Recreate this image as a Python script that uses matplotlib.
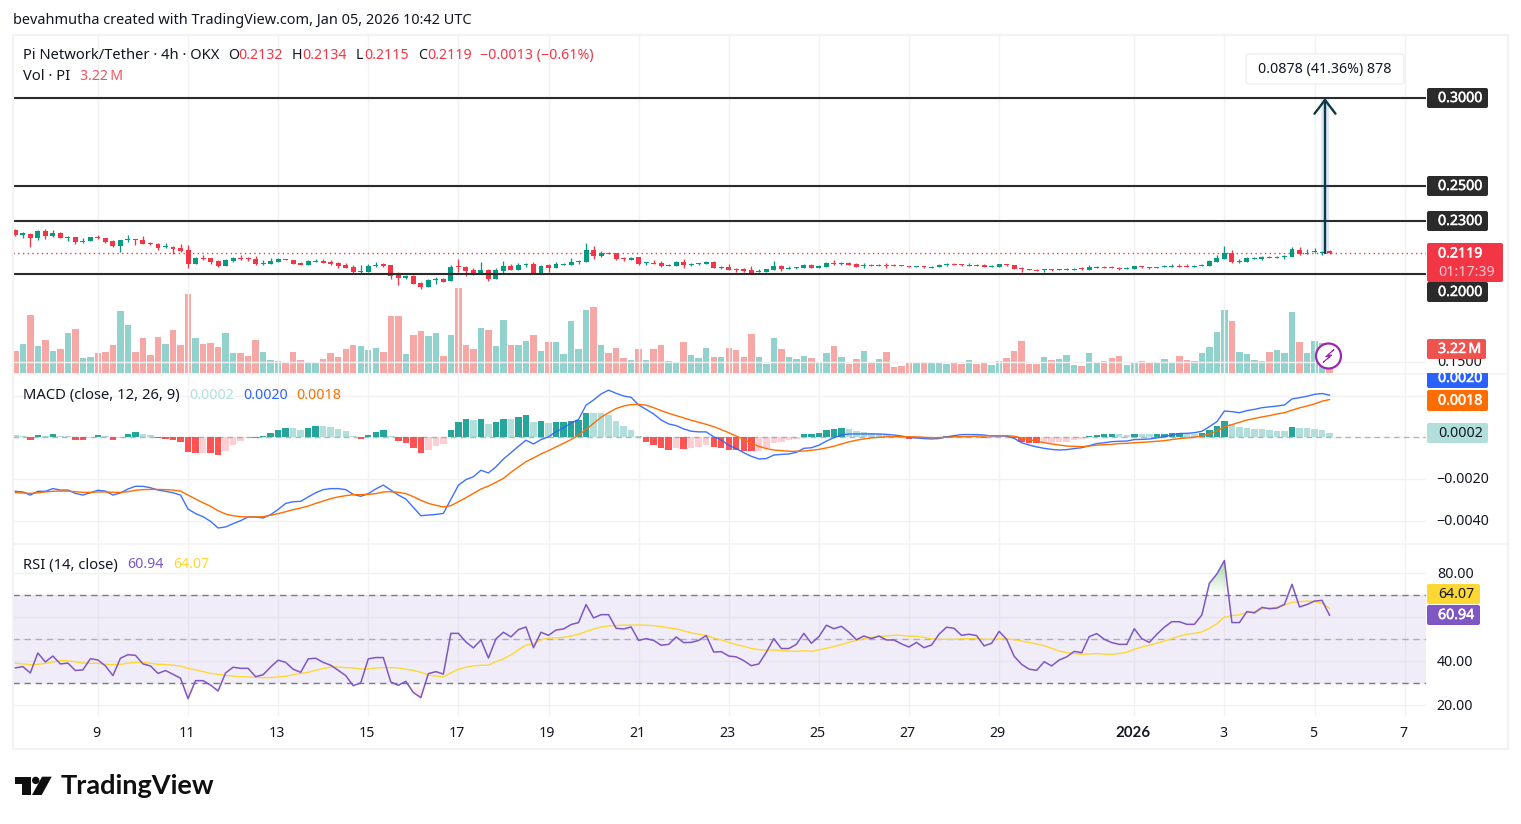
import numpy as np
import matplotlib
matplotlib.use("Agg")
import matplotlib.pyplot as plt
import matplotlib.patheffects as pe
from matplotlib.patches import Circle, FancyBboxPatch, Polygon, Rectangle
from matplotlib.transforms import ScaledTranslation

plt.rcParams['font.family'] = ['Noto Sans', 'DejaVu Sans']

W, H = 1521, 824

# OHLC, one bar every 4 hours
opens = [.2250,.2223,.2227,.2205,.2242,.2216,.2233,.2205,.2210,.2182,
         .2188,.2212,.2205,.2188,.2159,.2193,.2199,.2193,.2176,.2170,
         .2153,.2153,.2148,.2136,.2057,.2089,.2091,.2074,.2045,.2074,
         .2091,.2089,.2085,.2057,.2057,.2068,.2085,.2080,.2063,.2051,
         .2068,.2074,.2070,.2063,.2051,.2040,.2011,.2011,.2045,.2055,
         .2051,.2000,.1977,.1989,.1949,.1926,.1966,.1972,.1960,.2045,
         .2040,.2023,.2000,.2023,.1972,.2017,.2045,.2023,.2049,.2057,
         .2000,.2051,.2034,.2053,.2051,.2068,.2068,.2136,.2102,.2119,
         .2119,.2091,.2080,.2097,.2063,.2063,.2063,.2045,.2045,.2068,
         .2051,.2057,.2057,.2068,.2034,.2040,.2028,.2028,.2023,.2011,
         .2011,.2023,.2045,.2028,.2034,.2034,.2051,.2034,.2040,.2063,
         .2059,.2065,.2057,.2045,.2051,.2045,.2051,.2051,.2049,.2045,
         .2042,.2045,.2034,.2040,.2051,.2057,.2057,.2045,.2051,.2051,
         .2040,.2040,.2057,.2051,.2034,.2028,.2023,.2023,.2028,.2025,
         .2025,.2025,.2034,.2023,.2034,.2040,.2040,.2034,.2028,.2028,
         .2044,.2040,.2036,.2040,.2040,.2045,.2045,.2042,.2045,.2045,
         .2068,.2085,.2119,.2068,.2068,.2085,.2085,.2097,.2091,.2097,
         .2097,.2136,.2115,.2125,.2121,.2132]
highs = [.2256,.2239,.2231,.2250,.2256,.2250,.2239,.2216,.2210,.2205,
         .2210,.2222,.2205,.2193,.2193,.2222,.2199,.2216,.2182,.2176,
         .2176,.2159,.2170,.2165,.2097,.2108,.2091,.2080,.2085,.2097,
         .2108,.2097,.2102,.2080,.2091,.2091,.2085,.2080,.2068,.2080,
         .2085,.2085,.2078,.2068,.2063,.2051,.2051,.2057,.2068,.2063,
         .2051,.2011,.1994,.1994,.1955,.1972,.1983,.1977,.2051,.2085,
         .2045,.2034,.2068,.2028,.2034,.2074,.2057,.2063,.2063,.2068,
         .2051,.2057,.2068,.2063,.2091,.2080,.2176,.2159,.2131,.2125,
         .2119,.2097,.2097,.2097,.2068,.2080,.2074,.2057,.2074,.2085,
         .2063,.2063,.2074,.2074,.2045,.2057,.2034,.2034,.2045,.2028,
         .2028,.2074,.2051,.2045,.2040,.2057,.2057,.2051,.2068,.2080,
         .2070,.2068,.2063,.2063,.2057,.2057,.2063,.2057,.2049,.2045,
         .2045,.2045,.2045,.2057,.2063,.2063,.2057,.2063,.2057,.2057,
         .2051,.2057,.2057,.2051,.2040,.2028,.2028,.2028,.2028,.2028,
         .2034,.2034,.2040,.2051,.2045,.2045,.2045,.2040,.2040,.2045,
         .2045,.2040,.2040,.2051,.2057,.2057,.2057,.2051,.2057,.2080,
         .2108,.2159,.2136,.2085,.2097,.2097,.2102,.2102,.2102,.2108,
         .2153,.2153,.2142,.2148,.2131,.2134]
lows = [.2216,.2206,.2155,.2193,.2199,.2210,.2205,.2188,.2170,.2176,
        .2188,.2199,.2176,.2153,.2125,.2182,.2165,.2170,.2165,.2136,
        .2148,.2114,.2125,.2034,.2057,.2080,.2057,.2040,.2045,.2068,
        .2080,.2074,.2051,.2051,.2057,.2068,.2080,.2057,.2051,.2051,
        .2068,.2063,.2051,.2034,.2034,.2004,.2006,.2011,.2040,.2040,
        .1972,.1938,.1972,.1943,.1915,.1926,.1943,.1955,.1960,.2011,
        .1989,.1994,.2000,.1960,.1972,.2000,.2023,.2023,.2040,.2000,
        .2000,.2011,.2034,.2051,.2051,.2057,.2068,.2085,.2097,.2114,
        .2080,.2074,.2080,.2051,.2051,.2057,.2040,.2045,.2045,.2034,
        .2045,.2051,.2057,.2034,.2028,.2023,.2011,.2011,.2000,.2011,
        .2011,.2023,.2017,.2028,.2028,.2034,.2034,.2034,.2040,.2051,
        .2051,.2051,.2040,.2034,.2045,.2045,.2034,.2045,.2045,.2040,
        .2042,.2034,.2034,.2040,.2045,.2051,.2045,.2045,.2045,.2040,
        .2040,.2040,.2045,.2028,.2011,.2025,.2017,.2011,.2017,.2025,
        .2023,.2023,.2023,.2023,.2034,.2034,.2034,.2025,.2028,.2028,
        .2034,.2028,.2036,.2040,.2040,.2040,.2040,.2040,.2045,.2045,
        .2068,.2085,.2063,.2063,.2068,.2085,.2080,.2091,.2091,.2085,
        .2097,.2108,.2114,.2119,.2108,.2115]
closes = [.2222,.2231,.2205,.2244,.2216,.2233,.2205,.2210,.2182,.2188,
          .2210,.2206,.2182,.2159,.2193,.2199,.2195,.2170,.2170,.2148,
          .2159,.2142,.2131,.2057,.2091,.2083,.2068,.2045,.2080,.2091,
          .2085,.2083,.2057,.2063,.2074,.2085,.2080,.2057,.2051,.2074,
          .2074,.2063,.2057,.2045,.2034,.2011,.2017,.2045,.2051,.2045,
          .1989,.1977,.1989,.1943,.1926,.1966,.1972,.1955,.2040,.2040,
          .2017,.2000,.2023,.1972,.2023,.2045,.2023,.2051,.2057,.2000,
          .2045,.2034,.2057,.2057,.2068,.2074,.2136,.2102,.2119,.2114,
          .2085,.2085,.2091,.2057,.2068,.2057,.2045,.2051,.2068,.2051,
          .2057,.2063,.2068,.2034,.2040,.2023,.2023,.2017,.2000,.2017,
          .2028,.2045,.2028,.2034,.2040,.2051,.2034,.2045,.2063,.2057,
          .2065,.2053,.2040,.2051,.2045,.2051,.2045,.2045,.2045,.2042,
          .2045,.2040,.2040,.2051,.2057,.2051,.2051,.2051,.2045,.2040,
          .2045,.2057,.2051,.2028,.2028,.2025,.2019,.2028,.2023,.2028,
          .2028,.2028,.2028,.2040,.2040,.2034,.2034,.2030,.2034,.2045,
          .2038,.2034,.2040,.2045,.2045,.2040,.2040,.2045,.2051,.2074,
          .2091,.2119,.2068,.2074,.2091,.2091,.2097,.2091,.2097,.2102,
          .2142,.2114,.2121,.2133,.2127,.2119]

# volume, millions of PI
volumes = [3.00,3.94,7.83,3.67,4.47,3.00,3.27,5.41,5.95,2.06,
           2.19,2.73,2.86,3.80,8.37,6.49,2.86,4.74,2.46,4.88,
           3.94,5.82,3.80,10.65,4.74,3.94,4.07,3.53,5.41,2.73,
           2.73,2.33,4.47,2.86,1.79,1.66,1.39,2.86,1.79,1.39,
           1.52,1.92,2.73,2.19,3.27,3.80,3.67,3.13,3.40,2.86,
           7.70,7.70,2.60,5.15,5.68,5.01,5.41,2.33,5.15,11.45,
           3.80,3.27,6.09,5.82,3.67,7.16,3.80,3.80,4.34,5.15,
           3.00,4.21,4.21,2.60,7.02,3.27,8.50,8.90,3.80,2.73,
           3.40,2.06,1.79,3.27,1.79,3.27,3.80,1.66,1.39,4.21,
           2.46,2.06,3.40,2.19,2.19,3.40,3.13,2.19,5.28,2.19,
           1.25,4.74,3.27,2.19,1.92,2.33,2.06,1.52,2.73,3.67,
           2.19,1.25,1.92,3.00,1.52,1.92,2.86,0.85,0.98,1.52,
           1.39,1.52,1.39,1.39,1.25,1.39,1.25,1.79,1.25,1.52,
           1.12,1.66,2.06,3.00,4.34,1.25,1.25,2.19,1.79,1.92,
           2.46,1.12,0.98,2.73,1.52,1.66,2.06,2.33,1.12,1.52,
           1.66,1.52,1.52,1.92,1.52,2.33,1.79,1.66,2.73,3.53,
           5.55,8.50,7.02,2.86,2.60,1.79,1.66,2.86,3.13,2.73,
           8.23,4.21,2.73,4.34,4.07,3.22]

# MACD (12, 26, 9), in units of 0.0001
macd_line = [-25.9,-26.2,-27.7,-25.9,-25.9,-24.6,-25.3,-25.3,-26.9,-27.7,
             -26.6,-25.4,-25.8,-27.7,-26.7,-24.8,-23.5,-23.5,-24.2,-25.3,
             -25.9,-26.6,-27.7,-34.4,-36.6,-38.1,-40.3,-43.5,-43.0,-41.4,
             -40.0,-38.2,-38.2,-38.7,-37.1,-34.6,-31.7,-30.9,-30.7,-28.6,
             -26.6,-25.1,-24.6,-24.6,-25.1,-27.4,-28.3,-27.0,-24.8,-22.9,
             -25.3,-27.7,-29.6,-33.6,-37.6,-37.3,-37.0,-36.5,-29.8,-23.0,
             -20.3,-18.9,-15.8,-17.1,-14.2,-10.4,-7.4,-4.3,-1.4,-3.2,
             -1.1,0.2,2.7,4.6,6.7,8.6,15.4,17.9,20.8,22.6,
             21.1,19.8,19.2,15.5,13.4,11.2,8.3,6.4,5.6,4.0,
             2.9,2.6,2.6,0.2,-1.3,-3.8,-5.4,-7.4,-9.1,-10.4,
             -10.2,-8.5,-8.2,-8.0,-7.2,-5.3,-5.0,-3.8,-1.8,-0.2,
             1.1,1.6,1.6,1.6,1.6,1.6,1.4,1.1,0.6,0.0,
             -0.3,-0.6,-0.8,-0.6,0.2,0.8,1.3,1.3,1.3,1.1,
             0.6,0.6,0.6,-0.5,-2.6,-3.7,-4.6,-5.3,-5.8,-6.1,
             -5.9,-5.4,-5.0,-4.0,-3.0,-2.6,-2.1,-1.9,-1.8,-1.1,
             -1.0,-0.8,-0.3,0.3,1.1,1.8,1.9,2.2,2.9,5.1,
             7.5,12.6,12.3,11.8,12.8,13.4,14.2,14.6,15.0,15.5,
             18.4,19.0,19.7,20.6,21.0,20.2]
macd_signal = [-26.6,-26.7,-26.9,-26.6,-26.2,-25.9,-25.8,-25.8,-26.1,-26.4,
               -26.4,-26.2,-26.2,-26.4,-26.4,-26.1,-25.4,-25.1,-25.0,-25.0,
               -25.1,-25.3,-25.8,-27.7,-29.6,-31.4,-33.1,-35.2,-36.8,-37.6,
               -38.1,-38.2,-38.2,-38.1,-37.4,-36.6,-35.7,-34.7,-33.9,-33.0,
               -31.7,-30.6,-29.4,-28.6,-28.0,-27.5,-27.5,-27.4,-27.0,-26.2,
               -26.1,-26.4,-27.0,-28.5,-30.2,-31.7,-32.6,-33.4,-32.8,-30.9,
               -29.0,-26.9,-24.8,-23.4,-21.6,-19.7,-16.8,-14.2,-11.7,-9.9,
               -8.0,-6.4,-4.6,-2.9,-1.1,1.1,3.7,6.7,9.6,11.8,
               13.8,15.0,15.7,15.8,15.4,14.2,12.8,11.5,10.4,9.3,
               8.2,7.2,6.2,5.1,3.7,2.2,0.6,-1.0,-2.9,-4.3,
               -5.4,-6.1,-6.4,-6.7,-6.7,-6.6,-6.2,-5.8,-5.1,-4.3,
               -3.2,-2.2,-1.4,-0.8,-0.3,0.0,0.2,0.3,0.3,0.2,
               0.2,0.0,-0.2,-0.2,0.0,0.2,0.3,0.3,0.5,0.6,
               0.8,0.8,0.8,0.5,-0.3,-1.1,-1.9,-2.6,-3.2,-3.7,
               -4.2,-4.3,-4.5,-4.2,-3.8,-3.5,-3.4,-3.0,-2.9,-2.6,
               -2.4,-2.2,-1.9,-1.6,-1.1,-0.6,-0.3,0.0,0.6,1.6,
               3.0,5.0,6.1,7.2,8.3,9.0,9.8,10.4,11.2,11.8,
               13.0,14.1,15.0,16.0,17.3,18.1]
macd_hist = [0.96,0.8,-1.28,1.12,0.64,1.6,0.64,0.6,-1.12,-1.2,
             -0.1,1.12,0.64,-1.12,-0.3,1.6,2.56,1.6,1.12,-0.32,
             -0.8,-1.12,-2.24,-7.04,-7.52,-7.4,-7.6,-8.48,-6.56,-3.68,
             -1.76,-0.32,-0.4,0.64,2.08,3.52,4.48,4.4,3.52,4.48,
             5.44,5.4,4.96,4.0,3.04,0.64,-0.8,1.12,2.56,3.52,
             0.64,-1.76,-2.72,-5.12,-7.52,-6.08,-4.16,-3.2,3.52,7.36,
             8.8,8.32,8.8,6.4,7.36,8.8,8.75,9.76,10.72,7.36,
             7.84,6.88,7.36,7.4,7.84,8.32,11.68,11.6,11.55,10.72,
             7.84,5.44,3.52,0.64,-2.24,-3.68,-5.12,-6.08,-5.12,-5.6,
             -5.12,-4.64,-3.68,-4.64,-5.12,-6.08,-6.1,-6.56,-6.6,-6.5,
             -5.12,-2.72,-2.24,-1.28,-0.8,1.6,1.65,2.08,3.52,4.0,
             4.48,4.0,3.04,2.56,2.08,1.6,1.12,0.64,0.1,-0.8,
             -0.7,-0.5,-0.2,0.3,0.6,0.8,0.6,0.4,0.2,-0.3,
             -0.2,0.1,0.2,-0.5,-2.08,-2.88,-2.9,-2.56,-2.5,-2.45,
             -2.08,-1.28,-0.96,0.64,1.12,1.6,1.65,1.6,1.12,1.6,
             1.55,1.5,1.55,1.6,2.08,2.1,1.6,1.55,2.08,3.52,
             5.44,7.84,6.4,4.96,4.48,4.0,3.95,3.52,3.04,3.0,
             4.96,4.48,4.4,4.0,3.52,2.08]

# RSI (14) and its moving average
rsi_line = [37.0,37.6,34.7,43.8,39.7,42.4,38.8,39.2,35.8,36.1,
            41.2,40.6,37.9,33.5,41.4,43.0,42.7,38.8,37.9,34.5,
            35.8,34.1,32.3,23.0,31.2,31.2,29.2,26.5,34.7,37.3,
            36.8,36.8,33.0,33.9,37.4,40.5,39.5,36.4,35.0,41.1,
            41.4,39.5,38.2,35.9,33.5,28.9,30.2,41.1,41.7,41.7,
            30.6,29.1,30.9,25.8,23.5,34.4,35.3,34.2,52.7,52.7,
            48.8,46.1,49.7,41.5,50.2,53.2,51.1,54.4,55.6,46.2,
            53.2,51.8,54.2,54.7,56.7,57.6,65.8,59.7,61.2,61.2,
            55.0,54.7,55.6,49.5,50.3,49.5,47.3,47.7,51.1,48.5,
            48.6,49.5,51.7,44.2,44.4,42.4,42.0,40.3,38.0,38.8,
            44.1,50.3,45.8,45.8,47.7,52.7,48.2,51.2,56.4,54.8,
            55.9,53.2,49.8,51.5,50.3,51.5,49.7,49.7,47.9,46.5,
            48.6,46.2,47.4,52.3,55.5,55.0,51.8,52.3,51.7,47.0,
            48.2,53.6,50.0,42.3,38.6,36.4,35.9,39.8,37.9,40.6,
            42.0,44.5,43.9,51.2,52.6,50.0,48.5,47.7,47.7,54.8,
            50.3,48.6,52.3,55.5,58.0,58.0,56.8,56.8,61.1,75.5,
            79.7,85.8,57.6,57.6,62.6,62.0,64.5,63.9,64.2,65.9,
            75.0,64.7,65.8,67.4,67.7,60.94]
rsi_ma = [39.1,38.8,38.5,38.6,39.1,39.7,40.3,40.2,39.7,39.2,
          39.1,39.1,38.6,38.5,38.6,39.2,39.5,39.5,39.1,38.6,
          38.5,38.2,37.9,36.8,36.1,35.3,34.5,34.1,33.6,33.3,
          33.0,32.9,32.7,32.6,32.6,32.9,33.2,33.9,34.5,35.0,
          35.9,36.7,37.4,37.4,37.1,37.0,36.5,36.5,37.0,37.1,
          37.1,37.0,36.4,35.9,35.0,33.8,33.3,32.9,34.7,36.4,
          37.3,37.9,38.2,38.2,39.8,41.1,42.9,45.2,47.4,47.9,
          49.7,50.6,50.6,50.9,51.5,52.3,53.5,54.7,55.6,56.1,
          56.2,56.4,56.4,56.5,56.4,56.2,55.8,55.2,54.7,53.9,
          52.9,52.3,51.7,50.6,49.7,48.6,47.6,46.8,45.9,45.3,
          45.0,45.2,44.8,44.7,44.5,44.8,44.5,45.2,45.9,46.7,
          47.6,48.6,49.5,50.3,50.9,51.2,51.5,51.8,51.8,51.4,
          51.4,50.9,50.2,50.0,50.0,50.0,50.2,50.3,50.3,50.0,
          50.0,50.2,50.2,49.8,49.2,48.6,47.9,47.1,45.9,44.7,
          43.9,43.5,43.2,43.3,43.5,43.3,43.2,43.5,44.1,45.5,
          46.5,47.3,48.2,49.2,50.3,51.4,52.3,52.7,53.3,55.0,
          57.1,60.0,60.8,61.1,62.1,62.6,63.8,64.2,64.5,65.6,
          66.8,67.1,67.4,67.1,66.4,64.07]

# date axis, bar index of each label
date_ticks = [11, 23, 35, 47, 59, 71, 83, 95, 107, 119, 131, 149, 161, 173, 185]
date_labels = ['9', '11', '13', '15', '17', '19', '21', '23', '25', '27', '29',
               '2026', '3', '5', '7']

level_prices = [0.30, 0.25, 0.23, 0.20]
last_price = 0.2119

UP = '#089981'
DOWN = '#f23645'
GRID = '#f2f2f3'
TEXT = '#131722'
PURPLE = '#7e57c2'
YELLOW = '#fdd835'
BLUE = '#2962ff'
ORANGE = '#ff6d00'


def pane(y0, y1):
    # axes placed by pixel rows of the picture, x limits shared by all panes
    a = fig.add_axes([13 / W, 1 - y1 / H, (1426 - 13) / W, (y1 - y0) / H])
    a.set_xlim((13 - 15.3) / 7.51, (1426 - 15.3) / 7.51)
    for s in a.spines.values():
        s.set_visible(False)
    a.patch.set_visible(False)
    a.set_xticks(date_ticks)
    a.tick_params(length=0, labelbottom=False, labelleft=False, labelright=True,
                  left=False, right=False, labelsize=10.2, labelcolor=TEXT, pad=7.8)
    a.yaxis.tick_right()
    a.grid(True, color=GRID, lw=1)
    a.set_axisbelow(True)
    return a


def nudge(labels, dx, dy):
    # move tick labels a few pixels
    for lab in labels:
        lab.set_transform(lab.get_transform() + ScaledTranslation(dx / 100, dy / 100, fig.dpi_scale_trans))


def gradient_fill(a, x, y, where, base, peak, color, alpha):
    # fade a colour from the threshold line towards the extreme value
    poly = a.fill_between(x, base, y, where=where, interpolate=True, facecolor='none', edgecolor='none')
    rgba = np.zeros((64, 2, 4))
    rgba[..., :3] = matplotlib.colors.to_rgb(color)
    rgba[..., 3] = np.linspace(0, alpha, 64)[:, None]
    limits = a.get_xlim(), a.get_ylim()
    for path in poly.get_paths():
        im = a.imshow(rgba, origin='lower', aspect='auto', zorder=1.5,
                      extent=[x[0], x[-1], base, peak], interpolation='bilinear')
        im.set_clip_path(path, transform=a.transData)
    a.set_xlim(limits[0])
    a.set_ylim(limits[1])


fig = plt.figure(figsize=(W / 100, H / 100), dpi=100, facecolor='white')

x = np.arange(len(closes))
o, h, l, c = map(np.array, (opens, highs, lows, closes))
candle_colors = [UP if b >= a else DOWN for a, b in zip(o, c)]
vol_colors = ['#26a69a' if b >= a else '#ef5350' for a, b in zip(o, c)]

# price pane, volume sits on its own scale underneath
ax_vol = pane(35, 373)
ax_vol.grid(False)
ax_vol.set_yticks([])
ax_vol.set_xticks([])
ax_vol.set_ylim(0, 338 / 7.45)
ax_vol.bar(x, volumes, width=0.86, color=vol_colors, alpha=0.5, linewidth=0)

ax = pane(35, 373)
ax.set_ylim(0.2 - 99 / 1760, 0.2 + 239 / 1760)
ax.set_yticks([0.15, 0.20, 0.23, 0.25, 0.30])
ax.set_yticklabels(['0.1500', '', '', '', ''])
nudge(ax.get_yticklabels(), 0, 1)
ax.vlines(x, l, h, colors=candle_colors, lw=0.95)
ax.bar(x, np.abs(c - o), bottom=np.minimum(o, c), width=0.66, color=candle_colors, linewidth=0)
ax.hlines(level_prices, ax.get_xlim()[0], ax.get_xlim()[1], colors='#2b2b2b', lw=1.5, zorder=3)
ax.axhline(last_price, color=DOWN, lw=1, ls=(0, (1, 2.4)), zorder=1)

# measure tool, from the last close up to 0.30
arrow_x = (1325 - 15.3) / 7.51
ax.bar(arrow_x, 0.30 - last_price, bottom=last_price, width=1.05, color=BLUE, alpha=0.15, linewidth=0, zorder=3)
ax.annotate('', xy=(arrow_x, 0.30), xytext=(arrow_x, last_price), zorder=4,
            arrowprops=dict(arrowstyle='->,head_length=0.55,head_width=0.42', color='#0c3b3f',
                            lw=1.7, shrinkA=0, shrinkB=0, mutation_scale=18))

# MACD pane
ax_m = pane(374, 543)
ax_m.set_ylim(-(543 - 437.3) / 20.85 * 1e-3, (437.3 - 374) / 20.85 * 1e-3)
ax_m.set_yticks([-0.004, -0.002, 0, 0.002])
ax_m.set_yticklabels(['\u22120.0040', '\u22120.0020', '', ''])
nudge(ax_m.get_yticklabels(), -1, 1.2)
hist = np.array(macd_hist) / 1e4
hist_colors = []
for i, v in enumerate(hist):
    prev = hist[i - 1] if i else v
    if v >= 0:
        hist_colors.append('#26a69a' if v > prev else '#b2dfdb')
    else:
        hist_colors.append('#ffcdd2' if v > prev else '#ff5252')
ax_m.bar(x, hist, width=0.86, color=hist_colors, linewidth=0, zorder=2)
ax_m.axhline(0, color='#787b86', alpha=0.5, lw=1, ls=(0, (4, 3)), zorder=2.1)
ax_m.plot(x, np.array(macd_line) / 1e4, color=BLUE, lw=1, alpha=0.9, zorder=3)
ax_m.plot(x, np.array(macd_signal) / 1e4, color=ORANGE, lw=1, zorder=3.1)

# RSI pane
ax_r = pane(544, 716)
ax_r.set_ylim(50 - (716 - 639.3) / 2.2, 50 + (639.3 - 544) / 2.2)
ax_r.set_yticks([20, 30, 40, 50, 60, 70, 80])
ax_r.set_yticklabels(['20.00', '', '40.00', '', '', '', '80.00'])
nudge(ax_r.get_yticklabels(), 0, 0.7)
ax_r.axhspan(30, 70, color=PURPLE, alpha=0.1, linewidth=0, zorder=1)
rsi = np.array(rsi_line)
gradient_fill(ax_r, x, rsi, rsi > 70, 70, 86, '#4caf50', 0.5)
gradient_fill(ax_r, x, rsi, rsi < 30, 30, 23, '#f23645', 0.2)
ax_r.axhline(70, color='#787b86', lw=1, ls=(0, (4.5, 3.5)), zorder=2)
ax_r.axhline(30, color='#787b86', lw=1, ls=(0, (4.5, 3.5)), zorder=2)
ax_r.axhline(50, color='#787b86', alpha=0.5, lw=1, ls=(0, (4.5, 3.5)), zorder=2)
ax_r.plot(x, rsi_ma, color=YELLOW, lw=1, zorder=3)
ax_r.plot(x, rsi, color=PURPLE, lw=1.1, zorder=3.1)

# date labels go on the last pane
ax_r.tick_params(labelbottom=True, axis='x', labelsize=10.2, pad=7)
ax_r.set_xticklabels(date_labels)
nudge(ax_r.get_xticklabels(), -1.5, 0)
bold_label = ax_r.get_xticklabels()[date_labels.index('2026')]
bold_label.set_family(['Lato', 'DejaVu Sans'])
bold_label.set_fontweight('bold')
bold_label.set_fontsize(10.8)

# overlay in picture pixels for frame, legends and axis labels
ov = fig.add_axes([0, 0, 1, 1], zorder=10)
ov.set_xlim(0, W)
ov.set_ylim(H, 0)
ov.axis('off')

# frame of the chart
ov.add_patch(Rectangle((12.5, 34.5), 1495.5, 714, fc='none', ec=GRID, lw=1.6))
ov.plot([13, 1508], [373.5, 373.5], color=GRID, lw=1.1)
ov.plot([13, 1508], [543.5, 543.5], color=GRID, lw=1.1)


def legend_text(px, py, s, color=TEXT, size=10.2, **kw):
    return ov.text(px, py + 1, s, color=color, fontsize=size, ha='left', va='center', **kw)


legend_text(13, 19.5, 'bevahmutha created with TradingView.com, Jan 05, 2026 10:42 UTC', size=10.45)
legend_text(23, 54, 'Pi Network/Tether \u00b7 4h \u00b7 OKX', size=10.6)
for px, key, val_px, val in [(228, 'O', 238, '0.2132'), (292, 'H', 302, '0.2134'),
                             (356, 'L', 364, '0.2115'), (418, 'C', 427, '0.2119')]:
    legend_text(px, 54, key)
    legend_text(val_px, 54, val, DOWN)
legend_text(480, 54, '\u22120.0013 (\u22120.61%)', DOWN)
legend_text(23, 75, 'Vol \u00b7 PI', size=10.6)
legend_text(80, 75, '3.22\u2009M', '#f7525f')
legend_text(23, 394, 'MACD (close, 12, 26, 9)', size=10.65)
legend_text(189, 394, '0.0002', '#b2dfdb')
legend_text(243, 394, '0.0020', BLUE)
legend_text(296, 394, '0.0018', ORANGE)
legend_text(23, 564, 'RSI (14, close)', size=10.6)
legend_text(127, 564, '60.94', PURPLE)
legend_text(173, 564, '64.07', YELLOW)

heavier = [pe.withStroke(linewidth=0.35, foreground='white')]


def axis_label(y0, y1, s, fc, tc='white', x0=1427, x1=1488, text_x=1438, clip=None):
    box = FancyBboxPatch((x0, y0), x1 - x0, y1 - y0, boxstyle='round,pad=0,rounding_size=2',
                         fc=fc, ec='none', zorder=5)
    ov.add_patch(box)
    t = legend_text(text_x, (y0 + y1) / 2 - 0.5, s, tc, zorder=6)
    if tc == 'white':
        t.set_path_effects(heavier)
    if clip is not None:
        box.set_clip_path(clip)
        t.set_clip_path(clip)
    return t


for y_c, s in [(98, '0.3000'), (186, '0.2500'), (221, '0.2300'), (292, '0.2000')]:
    axis_label(y_c - 10, y_c + 10, s, '#2b2b2b')
axis_label(243, 282, '', DOWN, x1=1503)
legend_text(1438, 253, '0.2119', 'white', zorder=6, path_effects=heavier)
legend_text(1438, 271.5, '01:17:39', '#fbc9cd', zorder=6)
axis_label(339, 359, '3.22\u2009M', '#ef5350', x1=1486)
clip_top = Rectangle((1420, 373), 90, 60, transform=ov.transData)
axis_label(368, 388, '0.0020', BLUE, clip=clip_top)
axis_label(390, 411, '0.0018', ORANGE)
axis_label(423, 443, '0.0002', '#b2dfdb', TEXT)
axis_label(584, 604, '64.07', YELLOW, TEXT, x1=1480)
axis_label(605, 625, '60.94', PURPLE, x1=1480)

# measure tool readout
ov.add_patch(FancyBboxPatch((1246, 54), 158, 30, boxstyle='round,pad=0,rounding_size=3',
                            fc='white', ec='#eceef2', lw=1, zorder=5))
ov.text(1325, 69.5, '0.0878 (41.36%) 878', fontsize=10.2, color=TEXT, ha='center', va='center', zorder=6)

# lightning badge on the volume pane
ov.add_patch(Circle((1328.5, 356), 12.5, fc='white', ec='#9c27b0', lw=1.6, zorder=4))
ov.add_patch(Polygon([(1334, 349.5), (1325.5, 356.8), (1329.5, 356.8), (1323, 362.5),
                      (1332, 355), (1328, 355)], fc='#9c27b0', ec='#9c27b0', lw=0.6, zorder=4.1))

# TradingView mark
ov.add_patch(Polygon([(15.3, 776.7), (31, 776.7), (31, 795), (22, 795), (22, 784), (15.3, 784)], fc='#0f0f0f', ec='none'))
ov.add_patch(Circle((35.7, 780.4), 3.7, fc='#0f0f0f', ec='none'))
ov.add_patch(Polygon([(42, 776.7), (51.7, 776.7), (41.7, 795), (32, 795)], fc='#0f0f0f', ec='none'))
ov.text(61, 786.5, 'TradingView', fontsize=19.5, family=['Lato', 'DejaVu Sans'], fontweight='bold',
        color='#0f0f0f', ha='left', va='center')

fig.savefig('out.png', dpi=100)
